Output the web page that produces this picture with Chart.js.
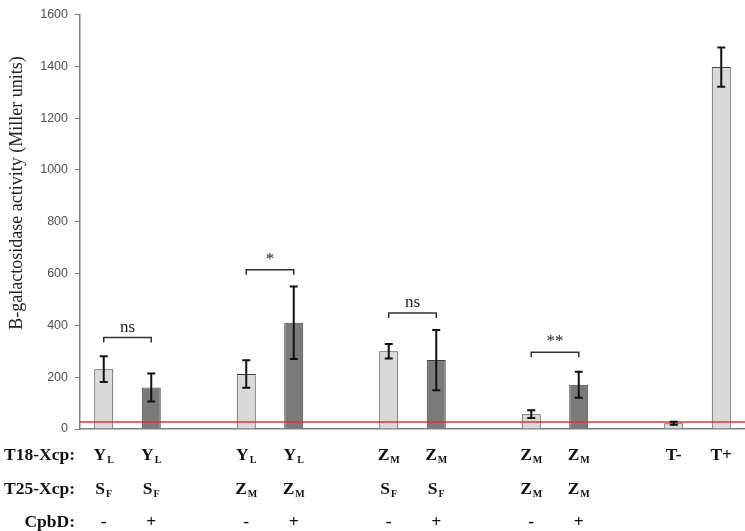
<!DOCTYPE html>
<html lang="en">
  <head>
    <meta charset="UTF-8" />
    <meta name="viewport" content="width=device-width, initial-scale=1.0" />
    <title>B-galactosidase activity - Chart.js</title>
    <script src="https://cdn.jsdelivr.net/npm/chart.js"></script>
    <style>
      html, body { margin: 0; padding: 0; background: #fff; }
      .chart-card { width: 745px; height: 531px; position: relative; }
    </style>
  </head>
  <body>
    <div class="chart-card">
      <canvas id="barChart"></canvas>
    </div>

    <script>
      // x slots: empty ones are the gaps between the pairs
      const slots = ['YL/SF-', 'YL/SF+', '', 'YL/ZM-', 'YL/ZM+', '', 'ZM/SF-', 'ZM/SF+', '', 'ZM/ZM-', 'ZM/ZM+', '', 'T-', 'T+'];
      const activity = [231, 160, null, 212, 410, null, 300, 266, null, 57, 171, null, 22, 1397];
      const activityErr = [50, 54, null, 53, 140, null, 28, 116, null, 15, 50, null, 6, 76];

      // rows of the table under the axis (main letter + subscript)
      const rowLabels = ['T18-Xcp:', 'T25-Xcp:', 'CpbD:'];
      const t18Main = ['Y', 'Y', '', 'Y', 'Y', '', 'Z', 'Z', '', 'Z', 'Z', '', 'T-', 'T+'];
      const t18Sub = ['L', 'L', '', 'L', 'L', '', 'M', 'M', '', 'M', 'M', '', '', ''];
      const t25Main = ['S', 'S', '', 'Z', 'Z', '', 'S', 'S', '', 'Z', 'Z', '', '', ''];
      const t25Sub = ['F', 'F', '', 'M', 'M', '', 'F', 'F', '', 'M', 'M', '', '', ''];
      const cpbd = ['-', '+', '', '-', '+', '', '-', '+', '', '-', '+', '', '', ''];

      // significance brackets
      const bracketFrom = [0, 3, 6, 9];
      const bracketTo = [1, 4, 7, 10];
      const bracketLevel = [353, 615, 448, 296];
      const bracketText = ['ns', '*', 'ns', '**'];

      // background threshold line
      const cutoff = 27;

      const yMin = 0, yMax = 1600, yStep = 200;

      const LIGHT = '#d9d9d9';
      const DARK = '#7a7a7a';
      const barColors = cpbd.map(c => (c === '+' ? DARK : LIGHT));

      const extras = {
        id: 'extras',
        afterDatasetsDraw(chart) {
          const { ctx, chartArea, scales: { x, y } } = chart;
          ctx.save();

          // red threshold line
          ctx.strokeStyle = '#d43a36';
          ctx.lineWidth = 1.5;
          ctx.beginPath();
          ctx.moveTo(chartArea.left, y.getPixelForValue(cutoff));
          ctx.lineTo(chartArea.right, y.getPixelForValue(cutoff));
          ctx.stroke();

          // error bars
          ctx.strokeStyle = '#111';
          ctx.lineWidth = 2;
          activity.forEach((v, i) => {
            if (v === null) return;
            const cx = x.getPixelForValue(i);
            const top = y.getPixelForValue(v + activityErr[i]);
            const bot = y.getPixelForValue(v - activityErr[i]);
            ctx.beginPath();
            ctx.moveTo(cx, top); ctx.lineTo(cx, bot);
            ctx.moveTo(cx - 4, top); ctx.lineTo(cx + 4, top);
            ctx.moveTo(cx - 4, bot); ctx.lineTo(cx + 4, bot);
            ctx.stroke();
          });

          // brackets
          ctx.strokeStyle = '#333';
          ctx.lineWidth = 1.5;
          ctx.fillStyle = '#222';
          ctx.textAlign = 'center';
          ctx.textBaseline = 'alphabetic';
          bracketFrom.forEach((f, k) => {
            const x1 = x.getPixelForValue(f);
            const x2 = x.getPixelForValue(bracketTo[k]);
            const by = y.getPixelForValue(bracketLevel[k]);
            ctx.beginPath();
            ctx.moveTo(x1, by + 5); ctx.lineTo(x1, by);
            ctx.lineTo(x2, by); ctx.lineTo(x2, by + 5);
            ctx.stroke();
            ctx.font = '17px "Liberation Serif"';
            ctx.fillText(bracketText[k], (x1 + x2) / 2, by - 6);
          });

          // y axis title
          ctx.save();
          ctx.translate(17, 193);
          ctx.rotate(-Math.PI / 2);
          ctx.font = '18px "Liberation Serif"';
          ctx.fillStyle = '#222';
          ctx.textAlign = 'center';
          ctx.textBaseline = 'middle';
          ctx.fillText('B-galactosidase activity (Miller units)', 0, 0);
          ctx.restore();

          // table under the axis
          const rows = [[t18Main, t18Sub], [t25Main, t25Sub], [cpbd, null]];
          const rowBase = [460, 494, 527];
          ctx.fillStyle = '#111';
          rows.forEach((row, r) => {
            ctx.font = 'bold 17.5px "Liberation Serif"';
            ctx.textAlign = 'right';
            ctx.fillText(rowLabels[r], 75, rowBase[r]);
            ctx.textAlign = 'left';
            row[0].forEach((m, i) => {
              if (!m) return;
              const sub = row[1] ? row[1][i] : '';
              ctx.font = 'bold 17.5px "Liberation Serif"';
              const wm = ctx.measureText(m).width;
              ctx.font = 'bold 10px "Liberation Serif"';
              const ws = sub ? ctx.measureText(sub).width + 1 : 0;
              const left = x.getPixelForValue(i) - (wm + ws) / 2;
              ctx.font = 'bold 17.5px "Liberation Serif"';
              ctx.fillText(m, left, rowBase[r]);
              if (sub) {
                ctx.font = 'bold 10px "Liberation Serif"';
                ctx.fillText(sub, left + wm + 1, rowBase[r] + 3);
              }
            });
          });

          ctx.restore();
        }
      };

      const ctx = document.getElementById('barChart').getContext('2d');
      new Chart(ctx, {
        type: 'bar',
        data: {
          labels: slots,
          datasets: [{
            data: activity,
            backgroundColor: barColors,
            borderColor: '#404040',
            borderWidth: 1,
            barPercentage: 0.4,
            categoryPercentage: 1
          }]
        },
        options: {
          responsive: true,
          maintainAspectRatio: false,
          animation: false,
          layout: { padding: { top: 7, right: 0, bottom: 102, left: 0 } },
          plugins: { legend: { display: false }, tooltip: { enabled: false } },
          scales: {
            x: {
              grid: { display: false },
              ticks: { display: false },
              border: { display: true, color: '#7f7f7f', width: 1.5 },
              afterFit(scale) { scale.height = 0; }
            },
            y: {
              min: yMin,
              max: yMax,
              ticks: {
                stepSize: yStep,
                padding: 7,
                color: '#505050',
                font: { family: '"Liberation Sans"', size: 12.5 },
                callback: v => String(v)
              },
              grid: { drawOnChartArea: false, drawTicks: true, tickLength: 5, color: '#7f7f7f' },
              border: { display: true, color: '#7f7f7f', width: 1.5 },
              afterFit(scale) { scale.width = 80; }
            }
          }
        },
        plugins: [extras]
      });
    </script>
  </body>
</html>
